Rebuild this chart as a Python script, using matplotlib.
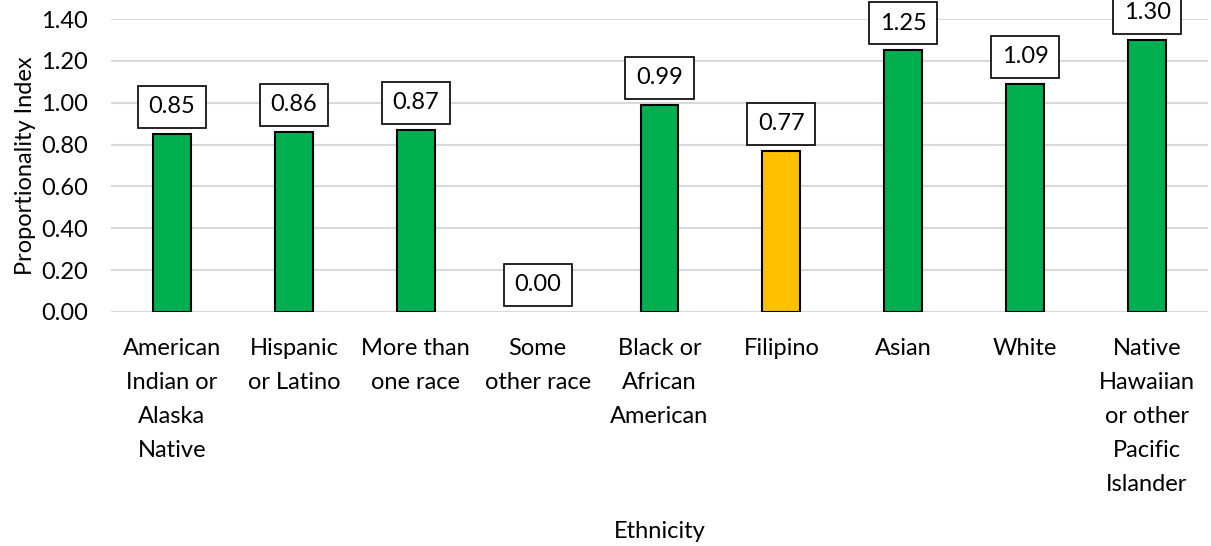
import matplotlib
matplotlib.use("Agg")
import matplotlib.pyplot as plt

categories = [
    "American\nIndian or\nAlaska\nNative",
    "Hispanic\nor Latino",
    "More than\none race",
    "Some\nother race",
    "Black or\nAfrican\nAmerican",
    "Filipino",
    "Asian",
    "White",
    "Native\nHawaiian\nor other\nPacific\nIslander",
]
values = [0.85, 0.86, 0.87, 0.00, 0.99, 0.77, 1.25, 1.09, 1.30]
colors = ["#00B050"] * 5 + ["#FFC000"] + ["#00B050"] * 3
yticks = [0.0, 0.2, 0.4, 0.6, 0.8, 1.0, 1.2, 1.4]

plt.rcParams["font.family"] = ["Lato", "DejaVu Sans"]
fs = 17

fig = plt.figure(figsize=(12.11, 5.46), dpi=100)
ax = fig.add_axes([111 / 1211, 1 - 312 / 546, 1097 / 1211, 293 / 546])

x = range(len(values))
edge_w = [1.5 if v > 0 else 0 for v in values]
ax.bar(x, values, width=0.31, color=colors, edgecolor="black", linewidth=edge_w, zorder=3)

for xi, v in zip(x, values):
    ax.annotate("%.2f" % v, (xi, v), xytext=(0, 12), textcoords="offset points",
                ha="center", va="bottom", fontsize=fs,
                bbox=dict(boxstyle="square,pad=0.45", fc="white", ec="black", lw=1.2),
                zorder=4, annotation_clip=False)

ax.set_xlim(-0.5, len(values) - 0.5)
ax.set_ylim(0, 1.4)
ax.set_yticks(yticks)
ax.set_yticklabels(["%.2f" % t for t in yticks], fontsize=fs)
ax.set_xticks(list(x))
ax.set_xticklabels(categories, fontsize=fs, linespacing=1.76, va="top")
ax.tick_params(axis="both", length=0)
ax.tick_params(axis="y", pad=16.5)
ax.tick_params(axis="x", pad=19)
ax.grid(axis="y", color="#D9D9D9", linewidth=1.5, zorder=0)
for s in ax.spines.values():
    s.set_visible(False)

ax.set_ylabel("Proportionality Index", fontsize=fs, labelpad=4)
ax.set_xlabel("Ethnicity", fontsize=fs, labelpad=19)

fig.savefig("out.png", dpi=100)
